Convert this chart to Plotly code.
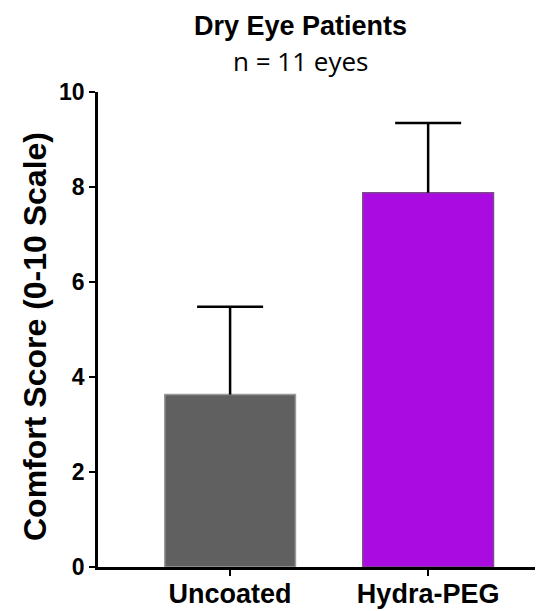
import plotly.graph_objects as go

categories = ["Uncoated", "Hydra-PEG"]
means = [3.63, 7.88]
sd_upper = [1.85, 1.47]
fill_colors = ["#606060", "#AA0BE0"]
line_colors = ["#9a9a9a", "#7d4a8e"]
y_ticks = [0, 2, 4, 6, 8, 10]

# page has an 8px body margin, so the figure is drawn slightly smaller
W, H = 535, 603
L, R, T, B = 90, 0, 84, 44
PW, PH = W - L - R, H - T - B
CAP = 0.1667  # cap half-width in category units

fig = go.Figure()
fig.add_trace(go.Bar(
    x=list(range(len(categories))), y=means, width=0.66,
    marker=dict(color=fill_colors, line=dict(color=line_colors, width=1.5)),
    showlegend=False, hoverinfo="skip",
))

# upward-only error bars (stem + cap), built from the data
ex, ey = [], []
for i, (m, s) in enumerate(zip(means, sd_upper)):
    ex += [i, i, None, i - CAP, i + CAP, None]
    ey += [m, m + s, None, m + s, m + s, None]
fig.add_trace(go.Scatter(x=ex, y=ey, mode="lines",
                         line=dict(color="black", width=2.5),
                         showlegend=False, hoverinfo="skip"))

bold = "Liberation Sans"
fig.update_layout(
    width=W, height=H,
    margin=dict(l=L, r=R, t=T, b=B),
    plot_bgcolor="white", paper_bgcolor="white",
    xaxis=dict(
        range=[-0.667, 1.58], tickmode="array", tickvals=[0, 1],
        ticktext=["<b>%s</b>" % c for c in categories],
        tickfont=dict(family=bold, size=27, color="black"),
        ticklabelstandoff=-5,
        showline=True, linecolor="black", linewidth=2.5,
        ticks="outside", ticklen=6, tickwidth=2, tickcolor="black",
        showgrid=False, zeroline=False, automargin=False,
    ),
    yaxis=dict(
        range=[0, 10], tickmode="array", tickvals=y_ticks,
        ticktext=["<b>%d</b>" % v for v in y_ticks],
        tickfont=dict(family=bold, size=23, color="black"),
        showline=True, linecolor="black", linewidth=2.5,
        ticks="outside", ticklen=6, tickwidth=2, tickcolor="black",
        showgrid=False, zeroline=False, automargin=False,
    ),
    annotations=[
        dict(text="<b>Dry Eye Patients</b>", xref="paper", yref="paper",
             x=(292 - L) / PW, y=1 + (T - 18) / PH,
             showarrow=False, font=dict(family=bold, size=27, color="black"),
             xanchor="center", yanchor="middle"),
        dict(text="n = 11 eyes", xref="paper", yref="paper",
             x=(292 - L) / PW, y=1 + (T - 53) / PH,
             showarrow=False, font=dict(family="Open Sans", size=26, color="black"),
             xanchor="center", yanchor="middle"),
        dict(text="<b>Comfort Score (0-10 Scale)</b>", xref="paper", yref="paper",
             x=(27 - L) / PW, y=(H - B - 329) / PH, textangle=-90,
             showarrow=False, font=dict(family=bold, size=32, color="black"),
             xanchor="center", yanchor="middle"),
    ],
)

fig.write_html("out.html")
